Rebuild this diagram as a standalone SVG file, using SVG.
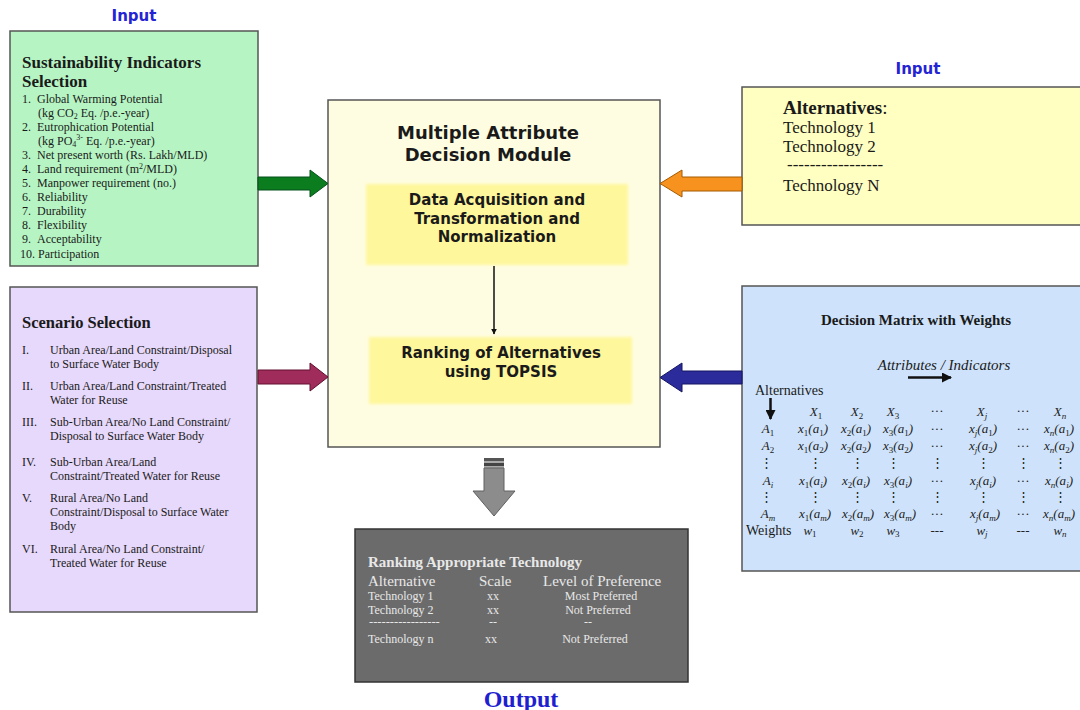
<svg xmlns="http://www.w3.org/2000/svg" width="1080" height="710" viewBox="0 0 1080 710">
<defs>
<style>
.box{stroke:#555;stroke-width:1.5}
.lbl{font-family:"DejaVu Sans",Verdana,sans-serif;font-weight:bold;font-size:15px;fill:#2424d4;text-anchor:middle}
.ser{font-family:"Liberation Serif","Times New Roman",serif;fill:#1a1a1a}
.b{font-weight:bold}
.sans{font-family:"DejaVu Sans",Verdana,sans-serif;font-weight:bold;fill:#1a1a1a;text-anchor:middle}
.li{font-family:"Liberation Serif","Times New Roman",serif;font-size:12px;fill:#1a1a1a}
.m{font-family:"Liberation Serif","DejaVu Serif",serif;font-size:13px;fill:#222;text-anchor:middle}
.it{font-style:italic}
.sb{font-size:9px;font-style:normal}
.si{font-size:9px;font-style:italic}
.o{font-family:"Liberation Serif","Times New Roman",serif;fill:#e8e8e8}
</style>
<filter id="soft" x="-5%" y="-10%" width="110%" height="120%"><feGaussianBlur stdDeviation="1.6"/></filter>
<marker id="ah" viewBox="0 0 10 10" refX="9" refY="5" markerWidth="4" markerHeight="4" orient="auto"><path d="M0,0 L10,5 L0,10 z" fill="#111"/></marker>
</defs>
<rect width="1080" height="710" fill="#ffffff"/>

<text class="lbl" x="134" y="21">Input</text>
<text class="lbl" x="918" y="74">Input</text>

<g id="indicators">
<rect class="box" x="10" y="31" width="248" height="235" fill="#b6f5c3"/>
<text class="ser b" x="22" y="68" font-size="17">Sustainability Indicators</text>
<text class="ser b" x="22" y="87" font-size="17">Selection</text>
<text class="li" x="22" y="103">1.</text><text class="li" x="37" y="103">Global Warming Potential</text>
<text class="li" x="38" y="117">(kg CO<tspan font-size="8" dy="2">2</tspan><tspan dy="-2"> Eq.  /p.e.-year)</tspan></text>
<text class="li" x="22" y="131">2.</text><text class="li" x="37" y="131">Eutrophication Potential</text>
<text class="li" x="38" y="145">(kg PO<tspan font-size="8" dy="2">4</tspan><tspan font-size="8" dy="-7">3-</tspan><tspan dy="5"> Eq.  /p.e.-year)</tspan></text>
<text class="li" x="22" y="159">3.</text><text class="li" x="37" y="159">Net present worth (Rs. Lakh/MLD)</text>
<text class="li" x="22" y="173">4.</text><text class="li" x="37" y="173">Land requirement (m<tspan font-size="8" dy="-4">2</tspan><tspan dy="4">/MLD)</tspan></text>
<text class="li" x="22" y="187">5.</text><text class="li" x="37" y="187">Manpower requirement (no.)</text>
<text class="li" x="22" y="201">6.</text><text class="li" x="37" y="201">Reliability</text>
<text class="li" x="22" y="215">7.</text><text class="li" x="37" y="215">Durability</text>
<text class="li" x="22" y="229">8.</text><text class="li" x="37" y="229">Flexibility</text>
<text class="li" x="22" y="243">9.</text><text class="li" x="37" y="243">Acceptability</text>
<text class="li" x="20" y="258">10.</text><text class="li" x="38" y="258">Participation</text>
</g>

<g id="scenario">
<rect class="box" x="10" y="287" width="247" height="325" fill="#e7d9fb"/>
<text class="ser b" x="22" y="328" font-size="16.5">Scenario Selection</text>
<text class="li" x="22" y="354">I.</text><text class="li" x="50" y="354">Urban Area/Land Constraint/Disposal</text>
<text class="li" x="50" y="368">to Surface Water Body</text>
<text class="li" x="22" y="390">II.</text><text class="li" x="50" y="390">Urban Area/Land Constraint/Treated</text>
<text class="li" x="50" y="404">Water for Reuse</text>
<text class="li" x="22" y="426">III.</text><text class="li" x="50" y="426">Sub-Urban Area/No Land Constraint/</text>
<text class="li" x="50" y="440">Disposal to Surface Water Body</text>
<text class="li" x="22" y="466">IV.</text><text class="li" x="50" y="466">Sub-Urban Area/Land</text>
<text class="li" x="50" y="480">Constraint/Treated Water for Reuse</text>
<text class="li" x="22" y="502">V.</text><text class="li" x="50" y="502">Rural Area/No Land</text>
<text class="li" x="50" y="516">Constraint/Disposal to Surface Water</text>
<text class="li" x="50" y="530">Body</text>
<text class="li" x="22" y="553">VI.</text><text class="li" x="50" y="553">Rural Area/No Land Constraint/</text>
<text class="li" x="50" y="567">Treated Water for Reuse</text>
</g>

<g id="module">
<rect class="box" x="328" y="100" width="332" height="347" fill="#fffde1"/>
<text class="sans" x="488" y="139" font-size="18">Multiple Attribute</text>
<text class="sans" x="488" y="161" font-size="18">Decision Module</text>
</g>

<g id="acquisition">
<rect x="366" y="184" width="262" height="81" fill="#fff79c" filter="url(#soft)"/>
<text class="sans" x="497" y="205" font-size="15">Data Acquisition and</text>
<text class="sans" x="497" y="224" font-size="15">Transformation and</text>
<text class="sans" x="497" y="242" font-size="15">Normalization</text>
</g>

<g id="ranking">
<rect x="369" y="337" width="263" height="67" fill="#fff79c" filter="url(#soft)"/>
<text class="sans" x="501" y="358" font-size="15">Ranking of Alternatives</text>
<text class="sans" x="501" y="377" font-size="15">using TOPSIS</text>
</g>

<g id="alternatives">
<rect class="box" x="742" y="87" width="345" height="138" fill="#ffffc1"/>
<text class="ser b" x="783" y="114" font-size="19">Alternatives<tspan font-weight="normal">:</tspan></text>
<text class="ser" x="783" y="133" font-size="17">Technology 1</text>
<text class="ser" x="783" y="152" font-size="17">Technology 2</text>
<text class="ser" x="787" y="170" font-size="17">-----------------</text>
<text class="ser" x="783" y="191" font-size="17">Technology N</text>
</g>

<g id="matrix">
<rect class="box" x="742" y="286" width="345" height="285" fill="#cee3fb"/>
<text class="ser b" x="916" y="325" font-size="15" text-anchor="middle">Decision Matrix with Weights</text>
<text class="ser it" x="944" y="370" font-size="15" text-anchor="middle">Attributes / Indicators</text>
<line x1="908" y1="377.5" x2="951" y2="377.5" stroke="#111" stroke-width="2.5" marker-end="url(#ah)"/>
<text class="ser" x="755" y="395" font-size="14">Alternatives</text>
<line x1="770.5" y1="398" x2="770.5" y2="419" stroke="#111" stroke-width="2.5" marker-end="url(#ah)"/>
<g class="m it" font-size="14">
<text x="816" y="416">X<tspan class="sb" dy="3">1</tspan></text>
<text x="857" y="416">X<tspan class="sb" dy="3">2</tspan></text>
<text x="893" y="416">X<tspan class="sb" dy="3">3</tspan></text>
<text x="982" y="416">X<tspan class="si" dy="3">j</tspan></text>
<text x="1060" y="416">X<tspan class="si" dy="3">n</tspan></text>
</g>
<g class="m">
<text x="937" y="415">···</text><text x="1023" y="415">···</text>
</g>
<g class="m it">
<text x="768" y="433">A<tspan class="sb" dy="3">1</tspan></text>
<text x="813" y="433">x<tspan class="sb" dy="3">1</tspan><tspan dy="-3">(a</tspan><tspan class="sb" dy="3">1</tspan><tspan dy="-3">)</tspan></text>
<text x="856" y="433">x<tspan class="sb" dy="3">2</tspan><tspan dy="-3">(a</tspan><tspan class="sb" dy="3">1</tspan><tspan dy="-3">)</tspan></text>
<text x="898" y="433">x<tspan class="sb" dy="3">3</tspan><tspan dy="-3">(a</tspan><tspan class="sb" dy="3">1</tspan><tspan dy="-3">)</tspan></text>
<text x="983" y="433">x<tspan class="si" dy="3">j</tspan><tspan dy="-3">(a</tspan><tspan class="sb" dy="3">1</tspan><tspan dy="-3">)</tspan></text>
<text x="1059" y="433">x<tspan class="si" dy="3">n</tspan><tspan dy="-3">(a</tspan><tspan class="sb" dy="3">1</tspan><tspan dy="-3">)</tspan></text>
<text x="768" y="450">A<tspan class="sb" dy="3">2</tspan></text>
<text x="813" y="450">x<tspan class="sb" dy="3">1</tspan><tspan dy="-3">(a</tspan><tspan class="sb" dy="3">2</tspan><tspan dy="-3">)</tspan></text>
<text x="856" y="450">x<tspan class="sb" dy="3">2</tspan><tspan dy="-3">(a</tspan><tspan class="sb" dy="3">2</tspan><tspan dy="-3">)</tspan></text>
<text x="898" y="450">x<tspan class="sb" dy="3">3</tspan><tspan dy="-3">(a</tspan><tspan class="sb" dy="3">2</tspan><tspan dy="-3">)</tspan></text>
<text x="983" y="450">x<tspan class="si" dy="3">j</tspan><tspan dy="-3">(a</tspan><tspan class="sb" dy="3">2</tspan><tspan dy="-3">)</tspan></text>
<text x="1059" y="450">x<tspan class="si" dy="3">n</tspan><tspan dy="-3">(a</tspan><tspan class="sb" dy="3">2</tspan><tspan dy="-3">)</tspan></text>
<text x="768" y="485">A<tspan class="si" dy="3">i</tspan></text>
<text x="813" y="485">x<tspan class="sb" dy="3">1</tspan><tspan dy="-3">(a</tspan><tspan class="si" dy="3">i</tspan><tspan dy="-3">)</tspan></text>
<text x="856" y="485">x<tspan class="sb" dy="3">2</tspan><tspan dy="-3">(a</tspan><tspan class="si" dy="3">i</tspan><tspan dy="-3">)</tspan></text>
<text x="898" y="485">x<tspan class="sb" dy="3">3</tspan><tspan dy="-3">(a</tspan><tspan class="si" dy="3">i</tspan><tspan dy="-3">)</tspan></text>
<text x="983" y="485">x<tspan class="si" dy="3">j</tspan><tspan dy="-3">(a</tspan><tspan class="si" dy="3">i</tspan><tspan dy="-3">)</tspan></text>
<text x="1059" y="485">x<tspan class="si" dy="3">n</tspan><tspan dy="-3">(a</tspan><tspan class="si" dy="3">i</tspan><tspan dy="-3">)</tspan></text>
<text x="768" y="518">A<tspan class="si" dy="3">m</tspan></text>
<text x="815" y="518">x<tspan class="sb" dy="3">1</tspan><tspan dy="-3">(a</tspan><tspan class="si" dy="3">m</tspan><tspan dy="-3">)</tspan></text>
<text x="858" y="518">x<tspan class="sb" dy="3">2</tspan><tspan dy="-3">(a</tspan><tspan class="si" dy="3">m</tspan><tspan dy="-3">)</tspan></text>
<text x="900" y="518">x<tspan class="sb" dy="3">3</tspan><tspan dy="-3">(a</tspan><tspan class="si" dy="3">m</tspan><tspan dy="-3">)</tspan></text>
<text x="985" y="518">x<tspan class="si" dy="3">j</tspan><tspan dy="-3">(a</tspan><tspan class="si" dy="3">m</tspan><tspan dy="-3">)</tspan></text>
<text x="1059" y="518">x<tspan class="si" dy="3">n</tspan><tspan dy="-3">(a</tspan><tspan class="si" dy="3">m</tspan><tspan dy="-3">)</tspan></text>
</g>
<g class="m">
<text x="937" y="433">···</text><text x="1023" y="433">···</text>
<text x="937" y="450">···</text><text x="1023" y="450">···</text>
<text x="937" y="485">···</text><text x="1023" y="485">···</text>
<text x="937" y="518">···</text><text x="1023" y="518">···</text>
<text x="766" y="467">⋮</text><text x="815" y="467">⋮</text><text x="857" y="467">⋮</text><text x="893" y="467">⋮</text><text x="937" y="467">⋮</text><text x="983" y="467">⋮</text><text x="1023" y="467">⋮</text><text x="1060" y="467">⋮</text>
<text x="766" y="501">⋮</text><text x="815" y="501">⋮</text><text x="857" y="501">⋮</text><text x="893" y="501">⋮</text><text x="937" y="501">⋮</text><text x="983" y="501">⋮</text><text x="1023" y="501">⋮</text><text x="1060" y="501">⋮</text>
<text x="937" y="535">---</text><text x="1023" y="535">---</text>
</g>
<text class="ser" x="746" y="535" font-size="14">Weights</text>
<g class="m it">
<text x="810" y="535">w<tspan class="sb" dy="2">1</tspan></text>
<text x="857" y="535">w<tspan class="sb" dy="2">2</tspan></text>
<text x="893" y="535">w<tspan class="sb" dy="2">3</tspan></text>
<text x="982" y="535">w<tspan class="si" dy="2">j</tspan></text>
<text x="1060" y="535">w<tspan class="si" dy="2">n</tspan></text>
</g>
</g>

<g id="output">
<rect x="355" y="529" width="333" height="153" fill="#6b6b6b" stroke="#333" stroke-width="1.5"/>
<text class="o b" x="368" y="567" font-size="15">Ranking Appropriate Technology</text>
<text class="o" x="368" y="586" font-size="15">Alternative</text>
<text class="o" x="479" y="586" font-size="15">Scale</text>
<text class="o" x="543" y="586" font-size="15">Level of Preference</text>
<text class="o" x="368" y="600" font-size="12">Technology 1</text>
<text class="o" x="493" y="600" font-size="12" text-anchor="middle">xx</text>
<text class="o" x="601" y="600" font-size="12" text-anchor="middle">Most Preferred</text>
<text class="o" x="368" y="614" font-size="12">Technology 2</text>
<text class="o" x="493" y="614" font-size="12" text-anchor="middle">xx</text>
<text class="o" x="598" y="614" font-size="12" text-anchor="middle">Not Preferred</text>
<text class="o" x="369" y="626" font-size="12.5">-----------------</text>
<text class="o" x="493" y="626" font-size="12" text-anchor="middle">--</text>
<text class="o" x="588" y="626" font-size="12" text-anchor="middle">--</text>
<text class="o" x="368" y="643" font-size="12">Technology n</text>
<text class="o" x="491" y="643" font-size="12" text-anchor="middle">xx</text>
<text class="o" x="595" y="643" font-size="12" text-anchor="middle">Not Preferred</text>
</g>
<text x="521" y="707" font-family="Liberation Serif,Times New Roman,serif" font-weight="bold" font-size="24" fill="#1f1fd0" text-anchor="middle">Output</text>

<g id="connectors">
<polygon points="258,177 310,177 310,170 328,183.5 310,197 310,190 258,190" fill="#0b7d1e" stroke="#05501a" stroke-width="1"/>
<polygon points="258,370 310,370 310,363 328,377 310,391 310,384 258,384" fill="#a02c5c" stroke="#601030" stroke-width="1"/>
<polygon points="742,177 682,177 682,170 660,183.5 682,197 682,191 742,191" fill="#f7921e" stroke="#a55a00" stroke-width="1"/>
<polygon points="742,371 682,371 682,363 660,377.5 682,392 682,384 742,384" fill="#2b2b9c" stroke="#151560" stroke-width="1"/>
<line x1="494" y1="266" x2="494" y2="334" stroke="#111" stroke-width="1.5" marker-end="url(#ah)"/>
<rect x="484" y="458" width="20" height="3" fill="#555"/>
<rect x="484" y="461" width="20" height="2" fill="#aaa"/>
<rect x="484" y="463" width="20" height="3" fill="#444"/>
<rect x="484" y="466" width="20" height="2" fill="#aaa"/>
<polygon points="484,468 504,468 504,491 515,491 494,516 473,491 484,491" fill="#8c8c8c" stroke="#606060" stroke-width="1"/>
</g>
</svg>
